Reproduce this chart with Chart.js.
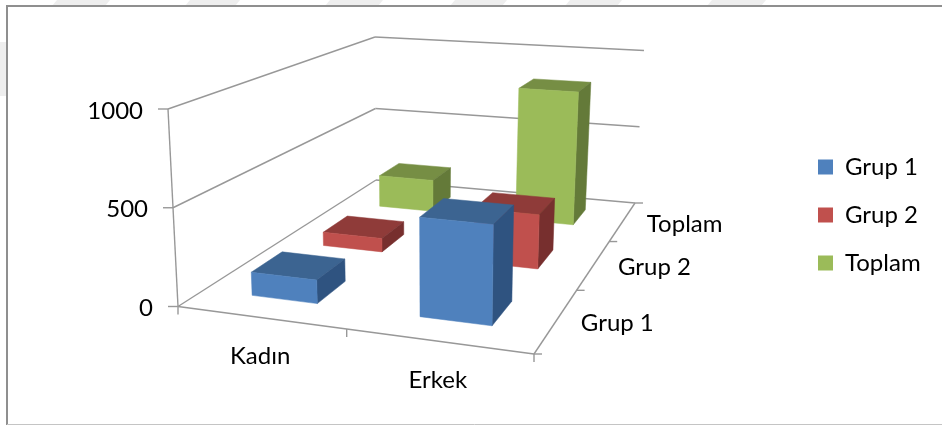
<!DOCTYPE html>
<html>
<head>
<meta charset="utf-8">
<script src="https://cdn.jsdelivr.net/npm/chart.js@4"></script>
<style>
  html, body { margin: 0; padding: 0; background: #fff; }
  #wrap { width: 942px; height: 425px; }
</style>
</head>
<body>
<div id="wrap"><canvas id="myChart"></canvas></div>
<script>
var categories = ["Kadın", "Erkek"];
var seriesNames = ["Grup 1", "Grup 2", "Toplam"];
var grup1 = [120, 495];
var grup2 = [77, 300];
var toplam = [197, 820];
var yTicks = [0, 500, 1000];

var fillColors = ["#4F81BD", "#C0504D", "#9BBB59"];
var topColors = ["#3C6491", "#8F3B39", "#768E44"];
var sideColors = ["#2F5380", "#772F2E", "#647A39"];
var lineColor = "#989898";
var fontName = "Lato, 'Open Sans', sans-serif";

// corners of the box on screen: front left, front right, back right, back left
var floorQuad = [[178, 306.5], [534, 354], [635, 203], [376, 180]];
var roofQuad = [[168, 109], [539, 138], [644, 50.5], [375, 37]];
var barShare = 0.4; // bar width / slot width

// unit square -> quad
function quadMap(q) {
    var x0 = q[0][0], y0 = q[0][1], x1 = q[1][0], y1 = q[1][1];
    var x2 = q[2][0], y2 = q[2][1], x3 = q[3][0], y3 = q[3][1];
    var sx = x0 - x1 + x2 - x3, sy = y0 - y1 + y2 - y3;
    var dx1 = x1 - x2, dx2 = x3 - x2, dy1 = y1 - y2, dy2 = y3 - y2;
    var det = dx1 * dy2 - dx2 * dy1;
    var g = (sx * dy2 - dx2 * sy) / det, h = (dx1 * sy - sx * dy1) / det;
    var a = x1 - x0 + g * x1, b = x3 - x0 + h * x3;
    var d = y1 - y0 + g * y1, e = y3 - y0 + h * y3;
    return function (u, v) {
        var w = g * u + h * v + 1;
        return [(a * u + b * v + x0) / w, (d * u + e * v + y0) / w];
    };
}
var floorMap = quadMap(floorQuad);
var roofMap = quadMap(roofQuad);

// u along categories, v along series (0 = front), t = height share of the y scale
function project(u, v, t) {
    var p = floorMap(u, v), r = roofMap(u, v);
    return [p[0] + (r[0] - p[0]) * t, p[1] + (r[1] - p[1]) * t];
}

function poly(ctx, pts, color) {
    ctx.fillStyle = color;
    ctx.strokeStyle = color;
    ctx.lineWidth = 0.5;
    ctx.beginPath();
    pts.forEach(function (p, i) { i ? ctx.lineTo(p[0], p[1]) : ctx.moveTo(p[0], p[1]); });
    ctx.closePath();
    ctx.fill();
    ctx.stroke();
}

function seg(ctx, a, b) {
    ctx.beginPath();
    ctx.moveTo(a[0], a[1]);
    ctx.lineTo(b[0], b[1]);
    ctx.stroke();
}

var box3d = {
    id: "box3d",
    beforeDraw: function (chart) {
        var ctx = chart.ctx;
        ctx.save();
        ctx.fillStyle = "#fff";
        ctx.fillRect(0, 0, 942, 425);
        // faint page watermark outside the frame
        ctx.fillStyle = "#eeeeee";
        [[57, 110], [190, 240], [330, 383], [455, 507], [570, 622], [712, 766]].forEach(function (b) {
            ctx.beginPath();
            ctx.moveTo(b[0], 0); ctx.lineTo(b[1], 0); ctx.lineTo(b[1] - 5, 6); ctx.lineTo(b[0] - 5, 6);
            ctx.fill();
        });
        ctx.fillRect(0, 42, 6, 54);
        // frame
        ctx.strokeStyle = "#8f8f8f";
        ctx.lineWidth = 2;
        ctx.beginPath();
        ctx.moveTo(7, 425); ctx.lineTo(7, 6); ctx.lineTo(942, 6);
        ctx.stroke();
        ctx.strokeStyle = "#c4c4c4";
        ctx.lineWidth = 1;
        seg(ctx, [7, 424.5], [942, 424.5]);
        ctx.restore();
    },
    beforeDatasetsDraw: function (chart) {
        var ctx = chart.ctx, xs = chart.scales.x, ys = chart.scales.y, zs = chart.scales.z;
        var shareU = function (i) { return (xs.getPixelForValue(i) - xs.left) / xs.width; };
        var shareV = function (i) { return (zs.getPixelForValue(i) - zs.left) / zs.width; };
        var shareT = function (val) { return (ys.bottom - ys.getPixelForValue(val)) / ys.height; };

        ctx.save();
        ctx.strokeStyle = lineColor;
        ctx.lineWidth = 1.4;
        // walls
        ys.ticks.forEach(function (tick) {
            var t = shareT(tick.value);
            var fl = project(0, 0, t), bl = project(0, 1, t), br = project(1, 1, t);
            seg(ctx, [fl[0] - 10, fl[1]], fl);
            seg(ctx, fl, bl);
            seg(ctx, bl, br);
        });
        seg(ctx, project(0, 0, 0), project(0, 0, shareT(ys.max)));
        // floor edges and ticks
        seg(ctx, project(0, 0, 0), project(1, 0, 0));
        seg(ctx, project(1, 0, 0), project(1, 1, 0));
        [0, 0.5, 1].forEach(function (u) {
            var p = project(u, 0, 0);
            seg(ctx, p, [p[0], p[1] + 8]);
        });
        seriesNames.concat([""]).forEach(function (name, i) {
            var p = project(1, i / seriesNames.length, 0);
            seg(ctx, p, [p[0] + 8, p[1]]);
        });

        // bars, back row first
        var halfU = barShare / categories.length / 2;
        var halfV = barShare / seriesNames.length / 2;
        for (var s = seriesNames.length - 1; s >= 0; s--) {
            var vals = chart.data.datasets[s].data;
            var v = shareV(s);
            for (var c = 0; c < categories.length; c++) {
                var u = shareU(c), t = shareT(vals[c]);
                var u0 = u - halfU, u1 = u + halfU, v0 = v - halfV, v1 = v + halfV;
                poly(ctx, [project(u0, v0, t), project(u1, v0, t), project(u1, v1, t), project(u0, v1, t)], topColors[s]);
                poly(ctx, [project(u1, v0, 0), project(u1, v1, 0), project(u1, v1, t), project(u1, v0, t)], sideColors[s]);
                poly(ctx, [project(u0, v0, 0), project(u1, v0, 0), project(u1, v0, t), project(u0, v0, t)], fillColors[s]);
            }
        }

        // axis text
        ctx.fillStyle = "#000";
        ctx.font = "24px " + fontName;
        ctx.textBaseline = "middle";
        ctx.textAlign = "right";
        ys.ticks.forEach(function (tick) {
            var p = project(0, 0, shareT(tick.value));
            ctx.fillText(String(tick.value), p[0] - 25, p[1] + 2);
        });
        ctx.textAlign = "center";
        categories.forEach(function (name, i) {
            var p = project(shareU(i), 0, 0);
            ctx.fillText(name, p[0], p[1] + 39);
        });
        ctx.textAlign = "left";
        seriesNames.forEach(function (name, i) {
            var p = project(1, shareV(i), 0);
            ctx.fillText(name, p[0] + 24, p[1] + 3);
        });
        ctx.restore();
    },
    // bars are painted above, in 3D
    beforeDatasetDraw: function () { return false; },
    afterLayout: function (chart) {
        var lg = chart.legend;
        lg.left = 818 - lg.options.labels.padding;
        lg.top = 131;
    }
};

var ctx = document.getElementById("myChart").getContext("2d");
new Chart(ctx, {
    type: "bar",
    data: {
        labels: categories,
        datasets: [
            { label: seriesNames[0], data: grup1, backgroundColor: fillColors[0] },
            { label: seriesNames[1], data: grup2, backgroundColor: fillColors[1] },
            { label: seriesNames[2], data: toplam, backgroundColor: fillColors[2] }
        ]
    },
    plugins: [box3d],
    options: {
        responsive: true,
        maintainAspectRatio: false,
        animation: false,
        layout: { padding: { left: 178, top: 109, bottom: 119, right: 0 } },
        scales: {
            x: { display: false, offset: true },
            z: { axis: "x", type: "category", labels: seriesNames, display: false, offset: true, position: "bottom" },
            y: {
                display: false,
                min: yTicks[0],
                max: yTicks[yTicks.length - 1],
                afterBuildTicks: function (scale) {
                    scale.ticks = yTicks.map(function (t) { return { value: t }; });
                }
            }
        },
        plugins: {
            tooltip: { enabled: false },
            legend: {
                position: "right",
                align: "start",
                labels: {
                    boxWidth: 15,
                    boxHeight: 15,
                    padding: 24,
                    color: "#000",
                    font: { family: fontName, size: 24 }
                }
            }
        }
    }
});
</script>
</body>
</html>
